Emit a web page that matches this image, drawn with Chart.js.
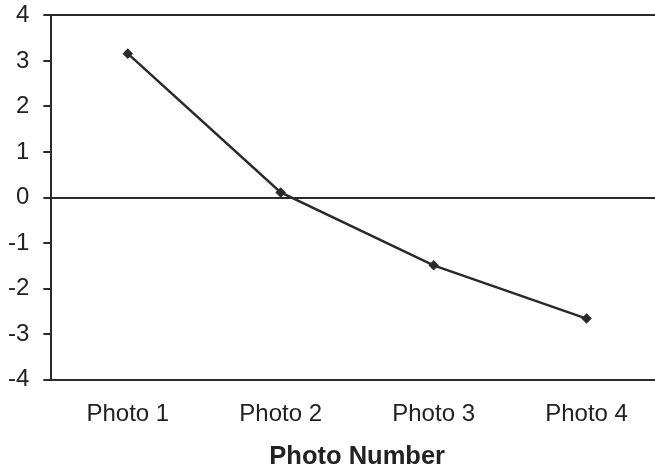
<!DOCTYPE html>
<html>
<head>
<meta charset="utf-8">
<script src="https://cdn.jsdelivr.net/npm/chart.js@4.4.1/dist/chart.umd.min.js"></script>
<style>
html,body{margin:0;padding:0;background:#fff;overflow:hidden;}
canvas{display:block;margin-top:-13px;}
</style>
</head>
<body>
<canvas id="c" width="669" height="482"></canvas>
<script>
const categories = ["Photo 1", "Photo 2", "Photo 3", "Photo 4"];
const values = [3.16, 0.11, -1.49, -2.66];
const yTicks = [-4, -3, -2, -1, 0, 1, 2, 3, 4];

const ink = '#2a2a2a';
const fam = 'Liberation Sans, Arial, sans-serif';
new Chart(document.getElementById('c'), {
  type: 'line',
  data: {
    labels: categories,
    datasets: [{
      data: values,
      borderColor: ink,
      backgroundColor: ink,
      borderWidth: 2.5,
      pointStyle: 'rectRot',
      pointRadius: 3.5,
      pointHoverRadius: 3.5,
      tension: 0
    }]
  },
  options: {
    responsive: false,
    animation: false,
    layout: { padding: { left: -6, top: 0, right: 0, bottom: -3 } },
    plugins: { legend: { display: false }, tooltip: { enabled: false } },
    scales: {
      x: {
        offset: true,
        grid: { display: false, drawTicks: false },
        border: { display: true, color: ink, width: 2 },
        ticks: { color: '#222', font: { family: fam, size: 24 }, padding: 20 },
        title: { display: true, text: 'Photo Number', color: '#222', font: { family: fam, size: 25.5, weight: 'bold' }, padding: { top: -7, bottom: 0 } }
      },
      y: {
        min: -4, max: 4,
        afterBuildTicks: (axis) => { axis.ticks = yTicks.map(v => ({ value: v })); },
        grid: {
          color: (ctx) => (ctx.tick && (ctx.tick.value === 0 || ctx.tick.value === 4)) ? ink : 'rgba(0,0,0,0)',
          lineWidth: 2,
          tickColor: ink,
          tickLength: 8,
          drawTicks: true
        },
        border: { display: true, color: ink, width: 2 },
        ticks: { color: '#222', font: { family: fam, size: 24 }, padding: 14 }
      }
    }
  }
});
</script>
</body>
</html>
